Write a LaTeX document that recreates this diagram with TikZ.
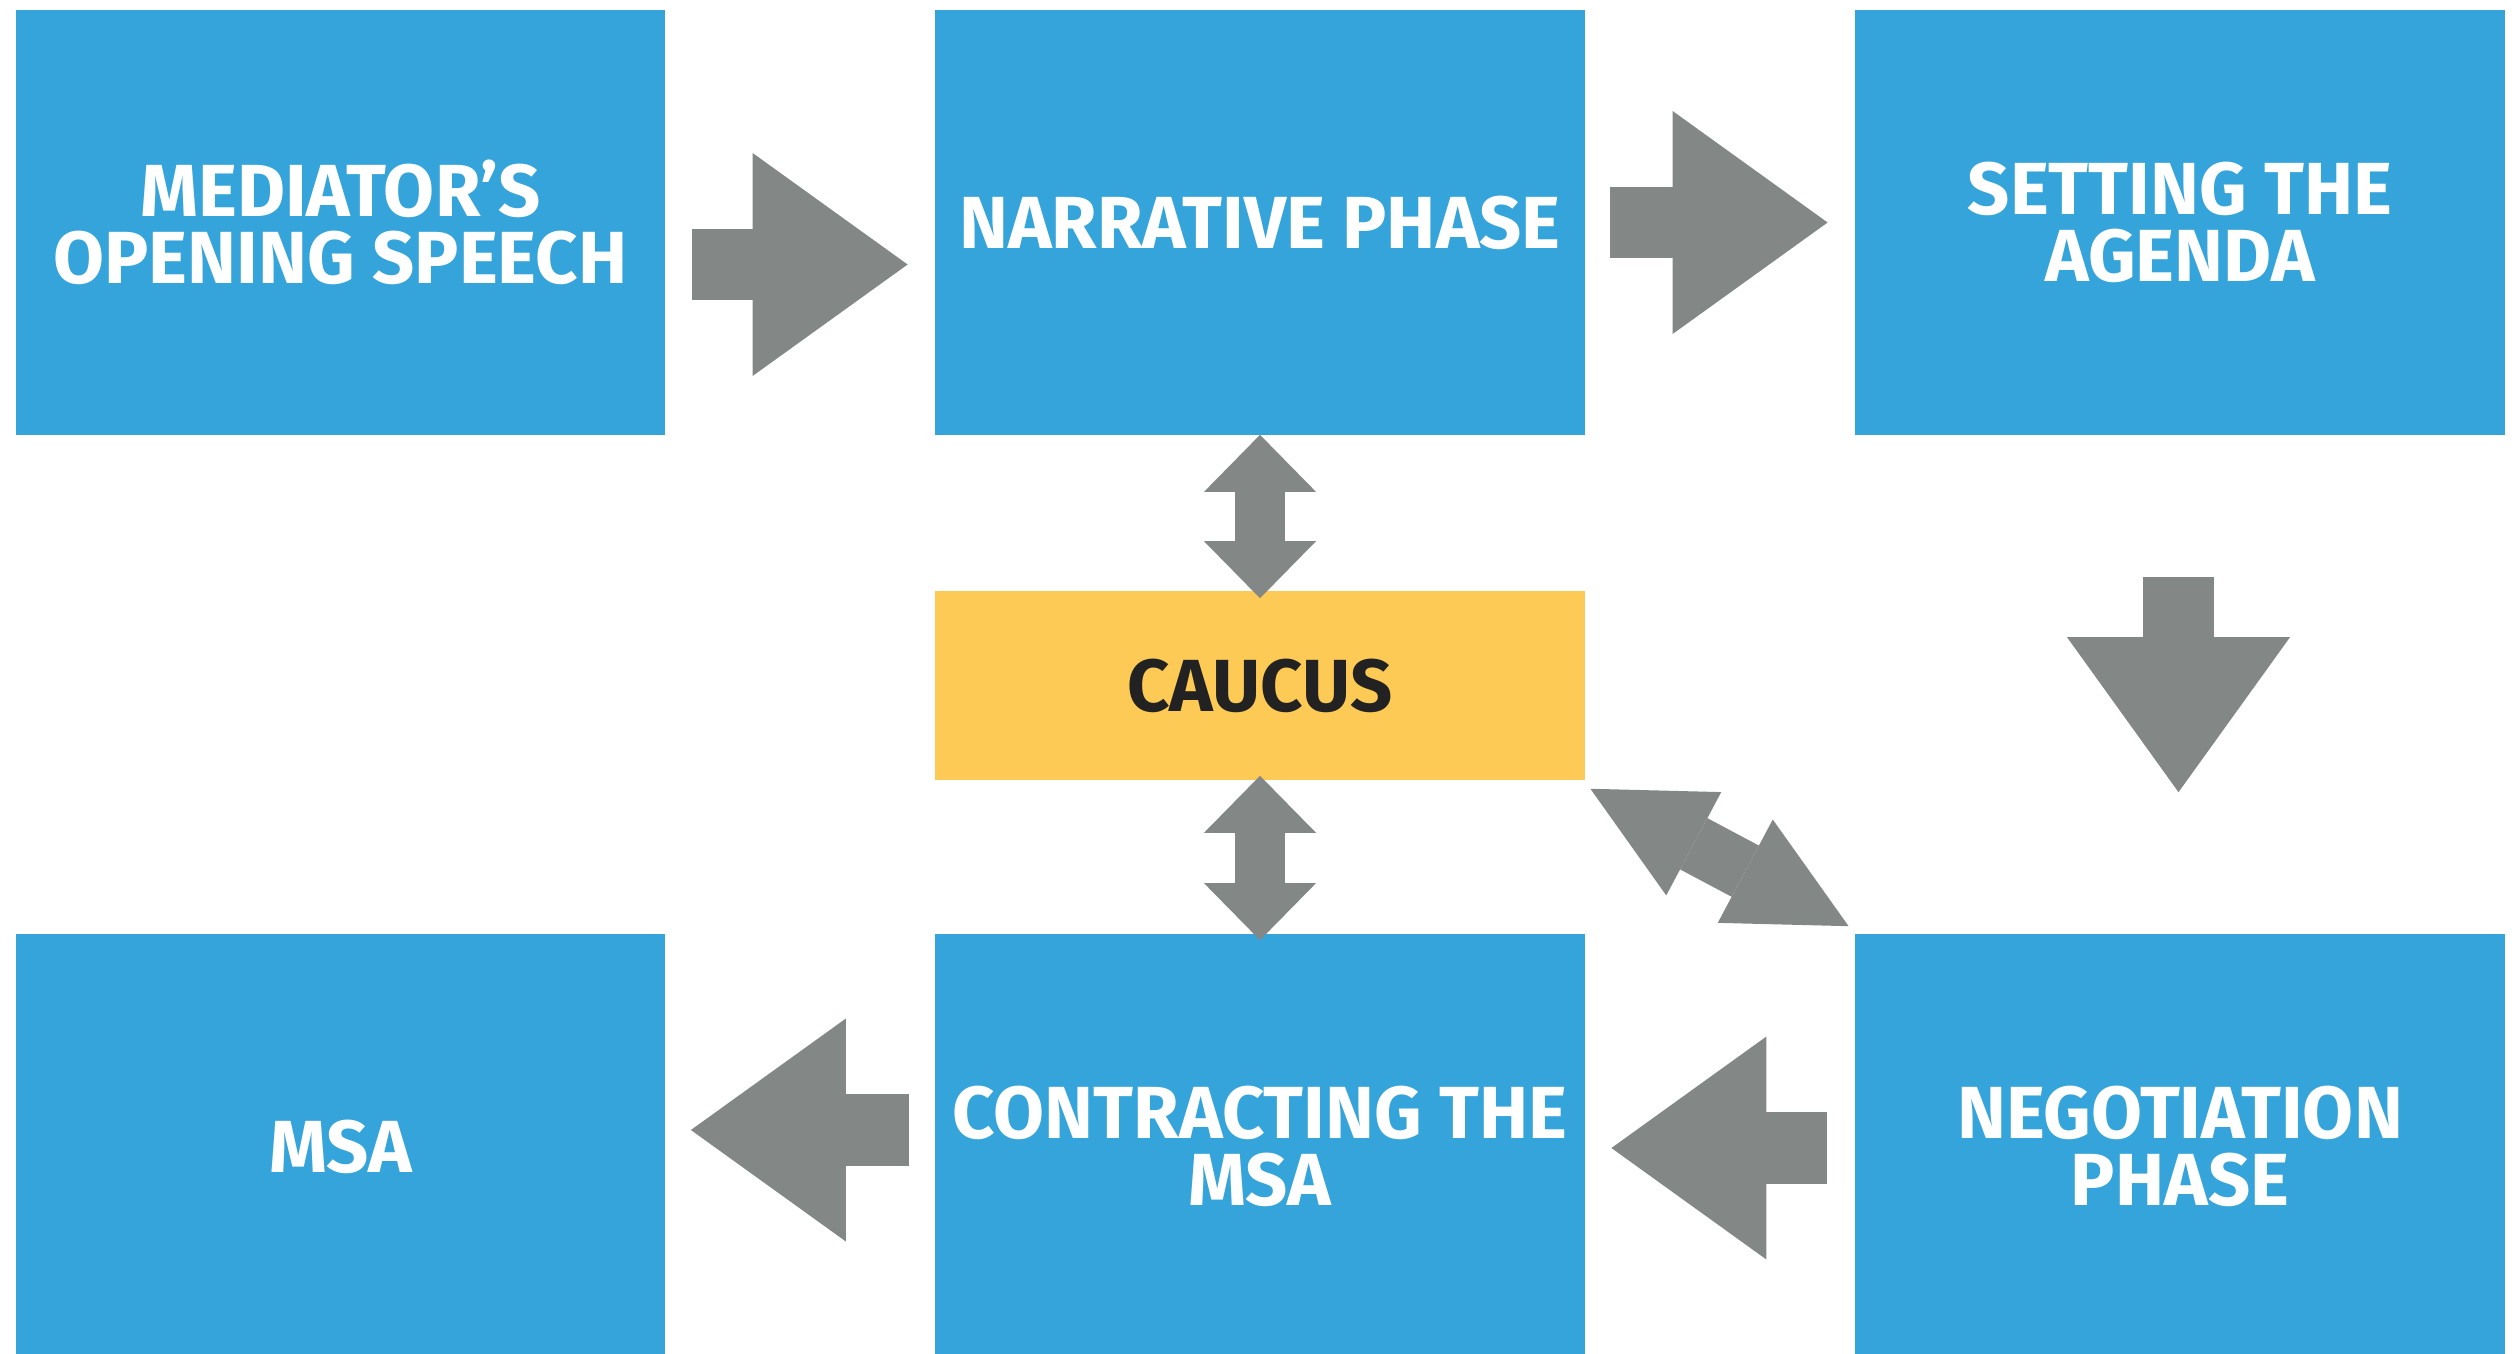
\documentclass[tikz,border=0pt]{standalone}
\usepackage{fontspec}
\setmainfont{Fira Sans}
\usetikzlibrary{arrows.meta,calc}
\definecolor{phaseblue}{RGB}{53,164,218}
\definecolor{caucusyellow}{RGB}{253,202,86}
\definecolor{arrowgray}{RGB}{131,136,134}
\definecolor{caucustext}{RGB}{34,34,34}
\begin{document}
\begin{tikzpicture}[x=0.01cm, y=-0.01cm,
  phase/.style={fill=phaseblue, text=white, inner sep=0pt, minimum width=6.49cm, minimum height=4.25cm, align=center, font=\bfseries\fontsize{21pt}{19.1pt}\selectfont},
  caucus/.style={phase, fill=caucusyellow, text=caucustext, minimum height=1.89cm},
  bigarrow/.style={draw=arrowgray, line width=0.71cm, -{Triangle[length=1.55cm, width=2.23cm, line width=0pt]}},
  twoway/.style={draw=arrowgray, line width=0.5cm, {Triangle[length=0.57cm, width=1.12cm, line width=0pt]}-{Triangle[length=0.57cm, width=1.12cm, line width=0pt]}},
  slantway/.style={draw=arrowgray, line width=0.58cm, {Triangle[length=1.17cm, width=1.17cm, line width=0pt]}-{Triangle[length=1.17cm, width=1.17cm, line width=0pt]}}]
\path[use as bounding box, fill=white] (0,0) rectangle (2517,1354);

\node[phase] (opening) at (340.5,222.5) {MEDIATOR’S\\OPENING SPEECH};
\node[phase] (narrative) at (1260,222.5) {NARRATIVE PHASE};
\node[phase] (agenda) at (2180,222.5) {SETTING THE\\AGENDA};
\node[caucus] (caucus) at (1260,685.5) {CAUCUS};
\node[phase] (msa) at (340.5,1146.5) {MSA};
\node[phase] (contract) at (1260,1146.5) {CONTRACTING THE\\MSA};
\node[phase] (negotiation) at (2180,1146.5) {NEGOTIATION\\PHASE};

\path[bigarrow] ($(opening.east)+(26,42)$) -- ($(narrative.west)+(-27,42)$);
\path[bigarrow] ($(narrative.east)+(25,0)$) -- ($(agenda.west)+(-27,0)$);
\path[bigarrow] ($(agenda.south)+(-1.5,141)$) -- ($(negotiation.north)+(-1.5,-141)$);
\path[bigarrow] ($(negotiation.west)+(-28,1.5)$) -- ($(contract.east)+(26,1.5)$);
\path[bigarrow] ($(contract.west)+(-26,-16.5)$) -- ($(msa.east)+(25,-16.5)$);

\path[twoway] ($(narrative.south)+(0,-1)$) -- ($(caucus.north)+(0,8)$);
\path[twoway] ($(caucus.south)+(0,-5)$) -- ($(contract.north)+(0,7)$);
\path[slantway] ($(caucus.south east)+(5,8)$) -- ($(negotiation.north west)+(-6,-7)$);
\end{tikzpicture}
\end{document}
